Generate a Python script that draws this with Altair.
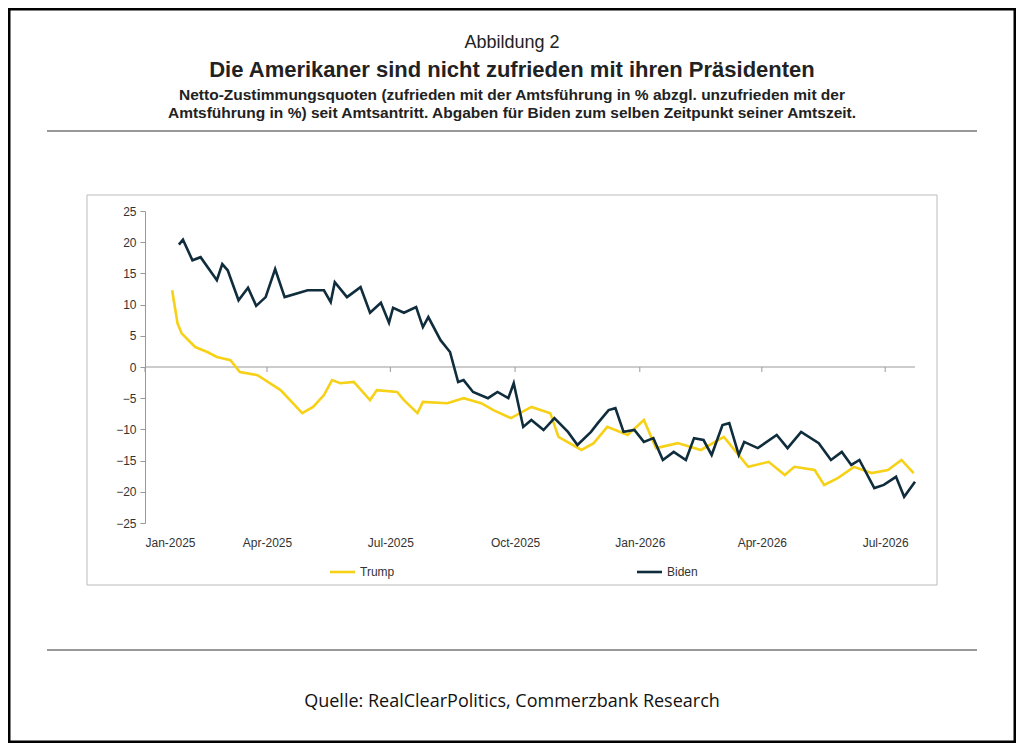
import altair as alt
import pandas as pd

# days since 2025-01-01 and net approval values
trump_days = [20, 24, 27, 37, 46, 53, 63, 70, 83, 100, 116, 124, 132, 138, 144, 154, 166, 171, 186, 191,
              201, 205, 223, 235, 248, 257, 270, 285, 299, 305, 322, 331, 341, 356, 368, 377, 393, 410,
              427, 445, 460, 472, 479, 494, 501, 511, 523, 536, 548, 558, 567]
trump_vals = [12.3, 7.0, 5.4, 3.2, 2.4, 1.6, 1.1, -0.8, -1.3, -3.7, -7.4, -6.4, -4.5, -2.1, -2.6, -2.4,
              -5.3, -3.7, -4.0, -5.3, -7.4, -5.6, -5.8, -5.0, -5.8, -6.9, -8.2, -6.4, -7.4, -11.2, -13.3,
              -12.2, -9.6, -10.9, -8.5, -13.0, -12.2, -13.3, -11.2, -16.0, -15.2, -17.3, -16.0, -16.5,
              -18.9, -17.8, -16.0, -17.0, -16.5, -14.9, -17.0]
biden_days = [25, 28, 35, 41, 53, 57, 61, 69, 76, 82, 89, 96, 103, 120, 132, 137, 140, 149, 159, 166,
              174, 180, 183, 191, 200, 205, 209, 218, 225, 231, 235, 242, 253, 260, 268, 272, 279, 285,
              294, 302, 312, 319, 329, 334, 342, 347, 353, 361, 368, 375, 382, 390, 399, 405, 412, 418,
              426, 431, 438, 442, 452, 466, 474, 484, 497, 506, 514, 521, 527, 538, 545, 554, 560, 568]
biden_vals = [19.6, 20.4, 17.1, 17.6, 13.9, 16.5, 15.5, 10.7, 12.7, 9.8, 11.2, 15.7, 11.2, 12.3, 12.3,
              10.4, 13.6, 11.2, 12.8, 8.7, 10.3, 7.1, 9.5, 8.7, 9.6, 6.4, 8.0, 4.3, 2.4, -2.4, -2.1,
              -4.0, -5.0, -4.0, -5.0, -2.6, -9.6, -8.5, -10.1, -8.2, -10.4, -12.5, -10.4, -9.0, -6.9,
              -6.6, -10.4, -10.1, -12.0, -11.4, -14.9, -13.6, -14.9, -11.4, -11.7, -14.1, -9.3, -9.0,
              -14.1, -12.0, -13.0, -10.9, -13.0, -10.4, -12.2, -14.9, -13.6, -15.7, -14.9, -19.4, -18.9,
              -17.6, -20.8, -18.4]

start = pd.Timestamp("2025-01-01")
df = pd.concat([
    pd.DataFrame({"date": start + pd.to_timedelta(trump_days, unit="D"), "val": trump_vals, "s": "Trump"}),
    pd.DataFrame({"date": start + pd.to_timedelta(biden_days, unit="D"), "val": biden_vals, "s": "Biden"}),
])
tick_dates = pd.DataFrame({"date": pd.to_datetime(["2025-01-01", "2025-04-01", "2025-07-01", "2025-10-01",
                                                    "2026-01-01", "2026-04-01", "2026-07-01"])})

FONT = "Liberation Sans"
W, H = 770, 312
xs = alt.Scale(domain=[pd.Timestamp("2025-01-01").isoformat(), pd.Timestamp("2026-07-23").isoformat()], nice=False)
ys = alt.Scale(domain=[-25, 25], nice=False)
dummy = pd.DataFrame({"a": [0]})

xaxis = alt.Axis(format="%b-%Y", domain=False, ticks=False, grid=False, labelFontSize=12,
                 labelFont=FONT, labelColor="#333", labelPadding=14,
                 values=[{"year": 2025, "month": m, "date": 1} for m in [1, 4, 7, 10]] +
                        [{"year": 2026, "month": m, "date": 1} for m in [1, 4, 7]])
yaxis = alt.Axis(values=list(range(-25, 30, 5)), grid=False, domainColor="#999", tickColor="#999",
                 tickSize=5, labelFontSize=12, labelFont=FONT, labelColor="#333", labelPadding=4,
                 labelOverlap=False)

def txt(t, x, y, size, bold=False, font=FONT, align="center", color="#222"):
    return alt.Chart(dummy).mark_text(text=t, fontSize=size, fontWeight="bold" if bold else "normal",
                                      font=font, align=align, baseline="middle", color=color).encode(
        x=alt.value(x), y=alt.value(y))

def rule(x1, x2, y1, y2, color="#333", w=1):
    return alt.Chart(dummy).mark_rule(color=color, strokeWidth=w).encode(
        x=alt.value(x1), x2=alt.value(x2), y=alt.value(y1), y2=alt.value(y2))

outer = alt.Chart(dummy).mark_rect(fillOpacity=0, stroke="black", strokeWidth=3).encode(
    x=alt.value(-136), x2=alt.value(870), y=alt.value(-202), y2=alt.value(531))
inner = alt.Chart(dummy).mark_rect(fillOpacity=0, stroke="#bbbbbb", strokeWidth=1).encode(
    x=alt.value(-58), x2=alt.value(792), y=alt.value(-16), y2=alt.value(374))

zero = alt.Chart(dummy).mark_rule(color="#999", strokeWidth=1).encode(
    x=alt.value(0), x2=alt.value(W), y=alt.YDatum(0, scale=ys, axis=yaxis))
qticks = alt.Chart(tick_dates).mark_rule(color="#999").encode(
    x=alt.X("date:T", scale=xs, axis=xaxis), y=alt.value(156), y2=alt.value(161))

lines = alt.Chart(df).mark_line(strokeWidth=2.6).encode(
    x=alt.X("date:T", scale=xs, title=None, axis=xaxis),
    y=alt.Y("val:Q", scale=ys, title=None, axis=yaxis),
    color=alt.Color("s:N", scale=alt.Scale(domain=["Trump", "Biden"], range=["#F7D117", "#0F2D3C"]), legend=None),
    detail="s:N",
)

layers = [
    zero, qticks, lines, outer, inner,
    txt("Abbildung 2", 367, -168, 18),
    txt("Die Amerikaner sind nicht zufrieden mit ihren Präsidenten", 367, -141, 22, bold=True),
    txt("Netto-Zustimmungsquoten (zufrieden mit der Amtsführung in % abzgl. unzufrieden mit der", 367, -116, 15.5, bold=True),
    txt("Amtsführung in %) seit Amtsantritt. Abgaben für Biden zum selben Zeitpunkt seiner Amtszeit.", 367, -98, 15.5, bold=True),
    rule(-98, 832, -80, -80),
    rule(-98, 832, 439, 439),
    txt("Quelle: RealClearPolitics, Commerzbank Research", 367, 491, 18, font="Open Sans", color="#111"),
    rule(185, 210, 361, 361, color="#F7D117", w=2.6),
    txt("Trump", 215, 361, 12, align="left", color="#333"),
    rule(492, 517, 361, 361, color="#0F2D3C", w=2.6),
    txt("Biden", 522, 361, 12, align="left", color="#333"),
]

chart = alt.layer(*layers).properties(
    width=W, height=H,
    padding={"left": 137, "top": 203, "right": 101, "bottom": 220},
    autosize=alt.AutoSizeParams(type="none"),
    background="white",
).configure_view(stroke=None).configure_axis(title=None)

chart.save("out.html", embed_options={"renderer": "svg", "actions": False})
